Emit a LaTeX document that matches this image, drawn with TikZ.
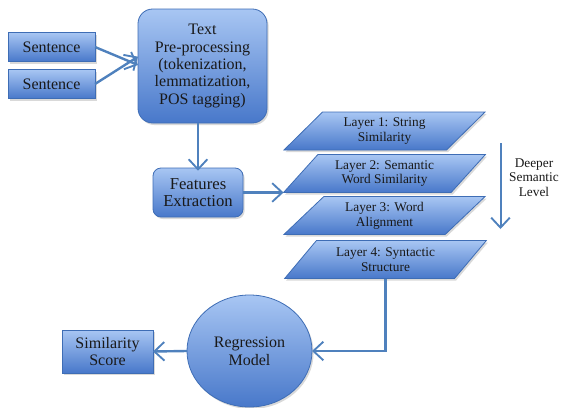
\documentclass[tikz,border=0pt]{standalone}
\usepackage{fontspec}
\setmainfont{Liberation Serif}
\usetikzlibrary{shapes.geometric,arrows.meta,shadows}

\definecolor{boxtop}{RGB}{168,198,243}
\definecolor{boxbottom}{RGB}{72,120,202}
\definecolor{boxline}{RGB}{62,109,181}
\definecolor{flowblue}{RGB}{79,129,189}
\definecolor{labeltext}{RGB}{25,25,25}

\tikzset{every picture/.style={line width=0.75pt}}
\tikzset{
	shaded/.style={draw=boxline, line width=0.6pt, top color=boxtop, bottom color=boxbottom,
		drop shadow={opacity=0.3, shadow xshift=1.2pt, shadow yshift=-1.5pt},
		text=labeltext, align=center, inner sep=0pt, outer sep=0pt},
	blockbox/.style={shaded, rectangle, font=\fontsize{12}{13}\selectfont},
	roundbox/.style={blockbox, rounded corners=#1},
	layerbox/.style={shaded, trapezium, trapezium left angle=46, trapezium right angle=134,
		trapezium stretches=true, minimum width=151.5pt, minimum height=28.5pt,
		font=\fontsize{10}{11}\selectfont},
	ovalbox/.style={shaded, ellipse, font=\fontsize{12}{13.5}\selectfont},
	flowarrow/.style={draw=flowblue, line width=1.8pt, -{Straight Barb[length=7.5pt,width=14pt,line width=1.4pt]}}
}

\begin{document}
\begin{tikzpicture}[x=0.75pt,y=0.75pt,yscale=-1,xscale=1]
	\useasboundingbox (0,0) rectangle (562,408);

	%Shape: Rectangle [id:sent1]
	\node [blockbox, minimum width=65.25pt, minimum height=21.75pt] (sent1) at (51.5,47) {Sentence};
	%Shape: Rectangle [id:sent2]
	\node [blockbox, minimum width=65.25pt, minimum height=21.75pt] (sent2) at (51.5,84) {Sentence};
	%Shape: Rounded Rect [id:prep]
	\node [roundbox=11pt, minimum width=96.75pt, minimum height=85.5pt] (prep) at (202.5,66) {Text\\Pre-processing\\(tokenization,\\lemmatization,\\POS tagging)};
	%Shape: Rounded Rect [id:feat]
	\node [roundbox=6pt, minimum width=67.5pt, minimum height=36.75pt, font=\fontsize{12.5}{12.5}\selectfont] (feat) at (198,192.5) {Features\\Extraction};

	%Shape: Parallelogram [id:l1]
	\node [layerbox] (l1) at (384.5,131) {Layer 1: String\\Similarity};
	%Shape: Parallelogram [id:l2]
	\node [layerbox] (l2) at (384.5,173.5) {Layer 2: Semantic\\Word Similarity};
	%Shape: Parallelogram [id:l3]
	\node [layerbox] (l3) at (384.5,215.5) {Layer 3: Word\\Alignment};
	%Shape: Parallelogram [id:l4]
	\node [layerbox] (l4) at (385.5,259.5) {Layer 4: Syntactic\\Structure};

	%Shape: Ellipse [id:reg]
	\node [ovalbox, minimum width=93.75pt, minimum height=84pt] (reg) at (249.5,351) {Regression\\Model};
	%Shape: Rectangle [id:score]
	\node [blockbox, minimum width=68.25pt, minimum height=32.25pt] (score) at (107.5,351.5) {Similarity\\Score};

	%Straight Lines [id:arrows]
	\draw [flowarrow] (sent1.east) -- ([yshift=-0.75pt]prep.west);
	\draw [flowarrow] (sent2.east) -- ([yshift=-7pt]prep.west);
	\draw [flowarrow] (feat.north |- prep.south) -- ([yshift=2pt]feat.north);
	\draw [flowarrow] (feat.east) -- (feat.east -| l2.bottom left corner);
	\draw [flowarrow] (l4.south) |- (reg.east);
	\draw [flowarrow] (reg.west) -- (score.east);

	%Straight Lines [id:deeper]
	\coordinate (dtop) at (500.5,143);
	\coordinate (dbot) at (500.5,229);
	\draw [flowarrow, line width=1.5pt] (dtop) -- (dbot);

	% Text Node
	\node [text=labeltext, align=center, font=\fontsize{10}{11}\selectfont] (deep) at (534,177.5) {Deeper\\Semantic\\Level};

\end{tikzpicture}
\end{document}
